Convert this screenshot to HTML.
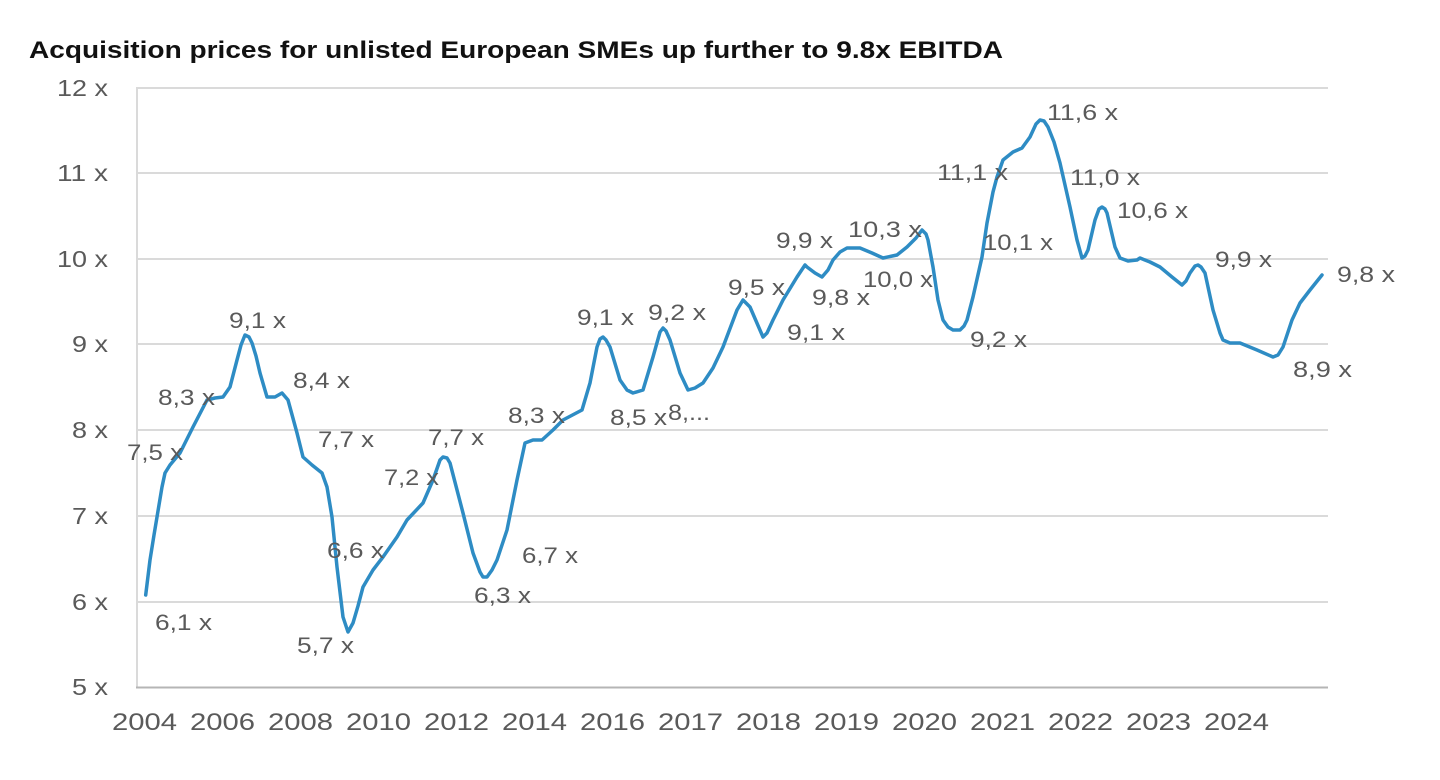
<!DOCTYPE html>
<html><head><meta charset="utf-8"><style>
html,body{margin:0;padding:0;background:#fff;}
svg{display:block;}
text{font-family:"Liberation Sans",sans-serif;}
</style></head><body>
<svg width="1440" height="780" viewBox="0 0 1440 780" xmlns="http://www.w3.org/2000/svg">
<rect width="1440" height="780" fill="#fff"/>
<text x="29" y="58" font-size="24" font-weight="bold" fill="#111" textLength="974" lengthAdjust="spacingAndGlyphs">Acquisition prices for unlisted European SMEs up further to 9.8x EBITDA</text>
<g stroke="#dadada" stroke-width="2">
<line x1="137" y1="88" x2="1328" y2="88"/>
<line x1="137" y1="173" x2="1328" y2="173"/>
<line x1="137" y1="259" x2="1328" y2="259"/>
<line x1="137" y1="344" x2="1328" y2="344"/>
<line x1="137" y1="430" x2="1328" y2="430"/>
<line x1="137" y1="516" x2="1328" y2="516"/>
<line x1="137" y1="602" x2="1328" y2="602"/>
<line x1="137" y1="87" x2="137" y2="688"/>
</g>
<line x1="136" y1="687.5" x2="1328" y2="687.5" stroke="#b5b5b5" stroke-width="2"/>
<g font-size="23" fill="#5a5a5a">
<text x="57" y="96" textLength="51" lengthAdjust="spacingAndGlyphs">12 x</text>
<text x="57" y="181" textLength="51" lengthAdjust="spacingAndGlyphs">11 x</text>
<text x="57" y="267" textLength="51" lengthAdjust="spacingAndGlyphs">10 x</text>
<text x="72" y="352" textLength="36" lengthAdjust="spacingAndGlyphs">9 x</text>
<text x="72" y="438" textLength="36" lengthAdjust="spacingAndGlyphs">8 x</text>
<text x="72" y="524" textLength="36" lengthAdjust="spacingAndGlyphs">7 x</text>
<text x="72" y="610" textLength="36" lengthAdjust="spacingAndGlyphs">6 x</text>
<text x="72" y="695" textLength="36" lengthAdjust="spacingAndGlyphs">5 x</text>
</g>
<g font-size="24" fill="#5a5a5a">
<text x="112" y="730" textLength="65" lengthAdjust="spacingAndGlyphs">2004</text>
<text x="190" y="730" textLength="65" lengthAdjust="spacingAndGlyphs">2006</text>
<text x="268" y="730" textLength="65" lengthAdjust="spacingAndGlyphs">2008</text>
<text x="346" y="730" textLength="65" lengthAdjust="spacingAndGlyphs">2010</text>
<text x="424" y="730" textLength="65" lengthAdjust="spacingAndGlyphs">2012</text>
<text x="502" y="730" textLength="65" lengthAdjust="spacingAndGlyphs">2014</text>
<text x="580" y="730" textLength="65" lengthAdjust="spacingAndGlyphs">2016</text>
<text x="658" y="730" textLength="65" lengthAdjust="spacingAndGlyphs">2017</text>
<text x="736" y="730" textLength="65" lengthAdjust="spacingAndGlyphs">2018</text>
<text x="814" y="730" textLength="65" lengthAdjust="spacingAndGlyphs">2019</text>
<text x="892" y="730" textLength="65" lengthAdjust="spacingAndGlyphs">2020</text>
<text x="970" y="730" textLength="65" lengthAdjust="spacingAndGlyphs">2021</text>
<text x="1048" y="730" textLength="65" lengthAdjust="spacingAndGlyphs">2022</text>
<text x="1126" y="730" textLength="65" lengthAdjust="spacingAndGlyphs">2023</text>
<text x="1204" y="730" textLength="65" lengthAdjust="spacingAndGlyphs">2024</text>
</g>
<polyline fill="none" stroke="#2e8cc4" stroke-width="3.5" stroke-linejoin="round" stroke-linecap="round" points="
145.7,595 150,560 154,535 157,517 162,487 165,473 170,465 180,453 193,427 207,400 215,398 223,397 230,387 237,360 241,345 245,335 249,337 252,343 256,356 260,373 267,397 275,397 282,393 288,400 297,433 303,457 312,465 322,473 327,487 332,517 337,567 343,617 348,632 353,623 358,606 363,587 373,570 383,557 397,537 407,520 423,503 433,480 440,460 443,457 447,458 450,463 463,513 473,553 480,572 483,577 487,577 492,570 497,560 507,530 517,480 525,443 533,440 542,440 553,430 563,420 582,410 590,383 597,347 600,339 603,337 606,340 610,347 620,380 627,390 633,393 643,390 653,357 660,332 663,328 666,331 670,340 680,373 688,390 695,388 703,383 713,368 723,347 737,310 743,300 750,307 763,337 767,333 773,320 783,300 797,277 805,265 807,267 815,273 822,277 828,270 833,260 840,252 847,248 860,248 872,253 883,258 897,255 907,247 916,238 922,230 926,234 928,240 933,267 938,300 943,320 948,327 953,330 960,330 964,326 967,320 973,297 982,257 987,223 993,192 997,177 1003,160 1013,152 1022,148 1030,137 1036,124 1040,120 1044,121 1048,127 1054,142 1060,163 1070,207 1077,240 1082,258 1085,256 1088,250 1095,220 1099,209 1102,207 1105,209 1107,213 1115,247 1120,258 1128,261 1137,260 1140,258 1150,262 1160,267 1172,277 1182,285 1186,281 1190,273 1195,266 1198,265 1201,267 1205,273 1213,310 1220,333 1223,340 1230,343 1240,343 1257,350 1273,357 1278,355 1283,347 1292,320 1300,303 1310,290 1322,275"/>
<g font-size="22" fill="#5a5a5a">
<text x="155" y="630" textLength="57" lengthAdjust="spacingAndGlyphs">6,1 x</text>
<text x="127" y="460" textLength="56" lengthAdjust="spacingAndGlyphs">7,5 x</text>
<text x="158" y="405" textLength="57" lengthAdjust="spacingAndGlyphs">8,3 x</text>
<text x="229" y="328" textLength="57" lengthAdjust="spacingAndGlyphs">9,1 x</text>
<text x="293" y="388" textLength="57" lengthAdjust="spacingAndGlyphs">8,4 x</text>
<text x="318" y="447" textLength="56" lengthAdjust="spacingAndGlyphs">7,7 x</text>
<text x="384" y="485" textLength="55" lengthAdjust="spacingAndGlyphs">7,2 x</text>
<text x="428" y="445" textLength="56" lengthAdjust="spacingAndGlyphs">7,7 x</text>
<text x="327" y="558" textLength="57" lengthAdjust="spacingAndGlyphs">6,6 x</text>
<text x="297" y="653" textLength="57" lengthAdjust="spacingAndGlyphs">5,7 x</text>
<text x="474" y="603" textLength="57" lengthAdjust="spacingAndGlyphs">6,3 x</text>
<text x="522" y="563" textLength="56" lengthAdjust="spacingAndGlyphs">6,7 x</text>
<text x="508" y="423" textLength="57" lengthAdjust="spacingAndGlyphs">8,3 x</text>
<text x="577" y="325" textLength="57" lengthAdjust="spacingAndGlyphs">9,1 x</text>
<text x="648" y="320" textLength="58" lengthAdjust="spacingAndGlyphs">9,2 x</text>
<text x="610" y="425" textLength="57" lengthAdjust="spacingAndGlyphs">8,5 x</text>
<text x="668" y="420" textLength="42" lengthAdjust="spacingAndGlyphs">8,...</text>
<text x="728" y="295" textLength="57" lengthAdjust="spacingAndGlyphs">9,5 x</text>
<text x="787" y="340" textLength="58" lengthAdjust="spacingAndGlyphs">9,1 x</text>
<text x="776" y="248" textLength="57" lengthAdjust="spacingAndGlyphs">9,9 x</text>
<text x="812" y="305" textLength="58" lengthAdjust="spacingAndGlyphs">9,8 x</text>
<text x="848" y="237" textLength="74" lengthAdjust="spacingAndGlyphs">10,3 x</text>
<text x="863" y="287" textLength="70" lengthAdjust="spacingAndGlyphs">10,0 x</text>
<text x="937" y="180" textLength="71" lengthAdjust="spacingAndGlyphs">11,1 x</text>
<text x="983" y="250" textLength="70" lengthAdjust="spacingAndGlyphs">10,1 x</text>
<text x="970" y="347" textLength="57" lengthAdjust="spacingAndGlyphs">9,2 x</text>
<text x="1047" y="120" textLength="71" lengthAdjust="spacingAndGlyphs">11,6 x</text>
<text x="1070" y="185" textLength="70" lengthAdjust="spacingAndGlyphs">11,0 x</text>
<text x="1117" y="218" textLength="71" lengthAdjust="spacingAndGlyphs">10,6 x</text>
<text x="1215" y="267" textLength="57" lengthAdjust="spacingAndGlyphs">9,9 x</text>
<text x="1337" y="282" textLength="58" lengthAdjust="spacingAndGlyphs">9,8 x</text>
<text x="1293" y="377" textLength="59" lengthAdjust="spacingAndGlyphs">8,9 x</text>
</g>
</svg>
</body></html>
